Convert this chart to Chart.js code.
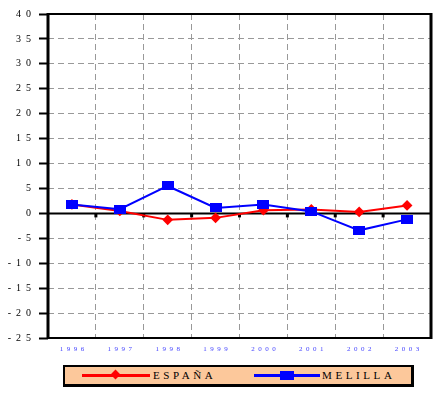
<!DOCTYPE html>
<html>
<head>
<meta charset="utf-8">
<script src="https://cdn.jsdelivr.net/npm/chart.js@4.4.0/dist/chart.umd.min.js"></script>
<style>
  html, body { margin: 0; padding: 0; background: #fff; }
  #wrap { position: relative; width: 439px; height: 393px; }
  #legend {
    position: absolute; left: 63px; top: 365px; width: 346px; height: 17px;
    background: #fcc89b; border: 2px solid #000; border-right-width: 3px; border-bottom-width: 3px;
    font-family: "Liberation Serif", serif; font-size: 11px; color: #000;
  }
  .line { position: absolute; height: 3px; top: 7px; }
  .mark { position: absolute; }
  .label { position: absolute; top: 0; line-height: 17px; letter-spacing: 3.6px; white-space: nowrap; }
</style>
</head>
<body>
<div id="wrap">
  <canvas id="chart" width="439" height="393"></canvas>
  <div id="legend">
    <div class="line" style="left:17px;width:68px;background:#ff0000"></div>
    <div class="mark" style="left:47px;top:4px;width:7px;height:7px;background:#ff0000;transform:rotate(45deg)"></div>
    <div class="label" style="left:88px">ESPAÑA</div>
    <div class="line" style="left:189px;width:66px;background:#0000ff"></div>
    <div class="mark" style="left:215px;top:4px;width:14px;height:9px;background:#0000ff"></div>
    <div class="label" style="left:257px">MELILLA</div>
  </div>
</div>
<script>
// Data
const years = ['1996', '1997', '1998', '1999', '2000', '2001', '2002', '2003'];
const espana = [1.8, 0.5, -1.3, -0.9, 0.65, 0.8, 0.3, 1.6];
const melilla = [1.8, 0.85, 5.5, 1.1, 1.8, 0.4, -3.4, -1.2];
const yMin = -25, yMax = 40, yStep = 5;

// blue rectangular marker for Melilla
const sq = document.createElement('canvas');
sq.width = 12; sq.height = 9;
const sctx = sq.getContext('2d');
sctx.fillStyle = '#0000ff';
sctx.fillRect(0, 0, 12, 9);

// frame, zero line and small ticks on the zero line
const framePlugin = {
  id: 'frame',
  beforeDatasetsDraw(chart) {
    const {ctx, chartArea: a, scales} = chart;
    const y0 = scales.y.getPixelForValue(0);
    ctx.save();
    ctx.strokeStyle = '#000';
    ctx.lineWidth = 2;
    ctx.beginPath();
    ctx.moveTo(a.left, y0);
    ctx.lineTo(a.right, y0);
    ctx.stroke();
    ctx.fillStyle = '#000';
    const n = years.length;
    for (let i = 1; i < n; i++) {
      const x = a.left + (a.right - a.left) * i / n;
      ctx.fillRect(x - 1.5, y0, 3, 4);
    }
    ctx.restore();
  },
  afterDraw(chart) {
    const {ctx, chartArea: a} = chart;
    ctx.save();
    ctx.strokeStyle = '#000';
    ctx.lineWidth = 2;
    ctx.beginPath();
    ctx.moveTo(a.left, a.top);
    ctx.lineTo(a.right, a.top);
    ctx.moveTo(a.left, a.bottom);
    ctx.lineTo(a.right, a.bottom);
    ctx.stroke();
    ctx.lineWidth = 3;
    ctx.beginPath();
    ctx.moveTo(a.left, a.top - 1);
    ctx.lineTo(a.left, a.bottom + 1);
    ctx.moveTo(a.right, a.top - 1);
    ctx.lineTo(a.right, a.bottom + 1);
    ctx.stroke();
    ctx.restore();
  }
};

new Chart(document.getElementById('chart'), {
  type: 'line',
  data: {
    labels: years,
    datasets: [
      {
        label: 'ESPAÑA',
        data: espana,
        order: 1,
        borderColor: '#ff0000',
        backgroundColor: '#ff0000',
        borderWidth: 2,
        pointStyle: 'rectRot',
        pointRadius: 4,
        pointHoverRadius: 4,
        tension: 0
      },
      {
        label: 'MELILLA',
        data: melilla,
        order: 0,
        borderColor: '#0000ff',
        backgroundColor: '#0000ff',
        borderWidth: 2,
        pointStyle: sq,
        pointRadius: 6,
        tension: 0
      }
    ]
  },
  options: {
    responsive: false,
    animation: false,
    layout: { padding: { top: 12, right: 7, bottom: 40, left: 0 } },
    plugins: { legend: { display: false }, tooltip: { enabled: false } },
    scales: {
      x: {
        offset: true,
        grid: { offset: true, color: '#999', lineWidth: 1, drawTicks: false },
        border: { display: false, dash: [6, 4] },
        ticks: {
          color: '#4444ff',
          font: { family: 'Liberation Serif', size: 7 },
          padding: 7,
          maxRotation: 0,
          callback: function (v) { return this.getLabelForValue(v).split('').join('\u2002'); }
        },
        afterFit: s => { s.height = 15; }
      },
      y: {
        min: yMin,
        max: yMax,
        grid: {
          color: '#999',
          lineWidth: 1,
          tickColor: '#000',
          tickWidth: 2,
          tickLength: 9
        },
        border: { display: false, dash: [6, 4] },
        ticks: {
          stepSize: yStep,
          color: '#000',
          font: { family: 'Liberation Serif', size: 10 },
          padding: 8,
          callback: v => String(v).split('').join('\u2002')
        },
        afterFit: s => { s.width = 48; }
      }
    }
  },
  plugins: [framePlugin]
});
</script>
</body>
</html>
